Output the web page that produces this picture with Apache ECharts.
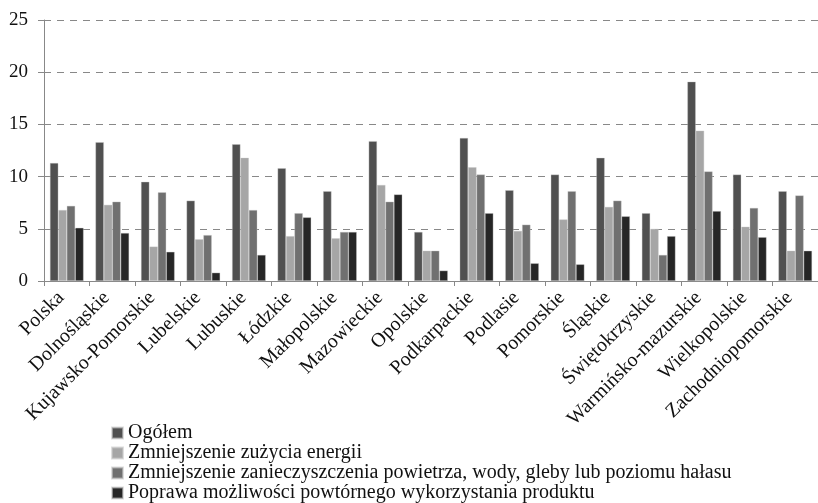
<!DOCTYPE html>
<html>
<head>
<meta charset="utf-8">
<script src="https://cdn.jsdelivr.net/npm/echarts@6/dist/echarts.min.js"></script>
<style>
  html, body { margin: 0; padding: 0; background: #fff; }
  #chart { width: 818px; height: 503px; }
</style>
</head>
<body>
<div id="chart"></div>
<script>
// Regions (voivodeships) with the national total first
const regions = [
  'Polska', 'Dolnośląskie', 'Kujawsko-Pomorskie', 'Lubelskie', 'Lubuskie',
  'Łódzkie', 'Małopolskie', 'Mazowieckie', 'Opolskie', 'Podkarpackie',
  'Podlasie', 'Pomorskie', 'Śląskie', 'Świętokrzyskie', 'Warmińsko-mazurskie',
  'Wielkopolskie', 'Zachodniopomorskie'
];

const seriesNames = [
  'Ogółem',
  'Zmniejszenie zużycia energii',
  'Zmniejszenie zanieczyszczenia powietrza, wody, gleby lub poziomu hałasu',
  'Poprawa możliwości powtórnego wykorzystania produktu'
];

const ogolem      = [11.3, 13.3, 9.5, 7.7, 13.1, 10.8, 8.6, 13.4, 4.7, 13.7, 8.7, 10.2, 11.8, 6.5, 19.1, 10.2, 8.6];
const energia     = [6.8, 7.3, 3.3, 4.0, 11.8, 4.3, 4.1, 9.2, 2.9, 10.9, 4.8, 5.9, 7.1, 5.0, 14.4, 5.2, 2.9];
const zanieczysz  = [7.2, 7.6, 8.5, 4.4, 6.8, 6.5, 4.7, 7.6, 2.9, 10.2, 5.4, 8.6, 7.7, 2.5, 10.5, 7.0, 8.2];
const ponowne     = [5.1, 4.6, 2.8, 0.8, 2.5, 6.1, 4.7, 8.3, 1.0, 6.5, 1.7, 1.6, 6.2, 4.3, 6.7, 4.2, 2.9];

const yTicks = [0, 5, 10, 15, 20, 25];

const palette = ['#505050', '#a6a6a6', '#707070', '#262626'];
const valueSets = [ogolem, energia, zanieczysz, ponowne];
const serif = '"Liberation Serif", "Times New Roman", serif';

const chart = echarts.init(document.getElementById('chart'), null, { renderer: 'canvas' });

chart.setOption({
  animation: false,
  color: palette,
  textStyle: { fontFamily: serif },
  grid: { left: 44, top: 20, width: 776, height: 261, containLabel: false },
  legend: {
    orient: 'vertical',
    left: 111,
    top: 423,
    padding: 0,
    itemWidth: 11,
    itemHeight: 11,
    itemGap: 0,
    icon: 'rect',
    data: seriesNames,
    textStyle: { fontFamily: serif, fontSize: 20, color: '#111', lineHeight: 19 }
  },
  xAxis: {
    type: 'category',
    data: regions,
    boundaryGap: true,
    axisLine: { lineStyle: { color: '#888', width: 1 } },
    axisTick: { show: true, length: 5, alignWithLabel: false, lineStyle: { color: '#888' } },
    axisLabel: {
      interval: 0,
      rotate: 45,
      margin: 8,
      padding: [0, 8, 0, 0],
      fontFamily: serif,
      fontSize: 20,
      color: '#111'
    }
  },
  yAxis: {
    type: 'value',
    min: yTicks[0],
    max: yTicks[yTicks.length - 1],
    interval: yTicks[1] - yTicks[0],
    axisLine: { show: true, lineStyle: { color: '#888', width: 1 } },
    axisTick: { show: true, length: 6, lineStyle: { color: '#888' } },
    splitLine: { show: true, lineStyle: { color: '#888', type: [7, 6], width: 1 } },
    axisLabel: {
      margin: 16,
      fontFamily: serif,
      fontSize: 19,
      color: '#111'
    }
  },
  series: seriesNames.map((name, i) => ({
    name: name,
    type: 'bar',
    data: valueSets[i],
    barGap: '0%',
    barCategoryGap: '26%',
    itemStyle: { color: palette[i], borderColor: 'rgba(200,200,200,0.6)', borderWidth: 0.6 }
  }))
});
</script>
</body>
</html>
